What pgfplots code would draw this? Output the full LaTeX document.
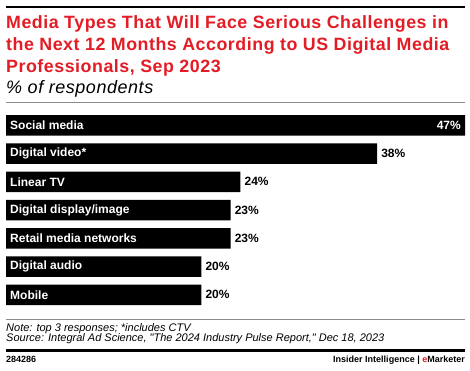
\documentclass[border=0pt]{standalone}
\usepackage{pgfplots}
\pgfplotsset{compat=1.18}
\usepackage{pgfplotstable}
\usepackage{fontspec}
\setmainfont{Liberation Sans}
\newfontfamily\titlefont[LetterSpace=3]{Liberation Sans}
\newfontfamily\notefont[Ligatures=TeXOff]{Liberation Sans}
\definecolor{emred}{RGB}{227,28,37}
\definecolor{rulegray}{RGB}{140,140,140}

\pgfplotstableread[col sep=comma]{
pos,val,lx,name
0,47,0,Social media
1,38,0,Digital video*
2,24,0,Linear TV
3,23,0,Digital display/image
4,23,0,Retail media networks
5,20,0,Digital audio
6,20,0,Mobile
}\mediadata

\begin{document}
\begin{tikzpicture}
\useasboundingbox[fill=white] (0,0) rectangle (470pt,-371pt);
\draw[line width=2pt] (6pt,-7pt) -- (465pt,-7pt);
\node[anchor=base west, inner sep=0, text=emred, font=\titlefont\fontsize{17.8}{21}\selectfont\bfseries] at (6pt,-28.3pt) {Media Types That Will Face Serious Challenges in};
\node[anchor=base west, inner sep=0, text=emred, font=\titlefont\fontsize{17.8}{21}\selectfont\bfseries] at (6pt,-50.6pt) {the Next 12 Months According to US Digital Media};
\node[anchor=base west, inner sep=0, text=emred, font=\titlefont\fontsize{17.8}{21}\selectfont\bfseries] at (6pt,-72.9pt) {Professionals, Sep 2023};
\node[anchor=base west, inner sep=0, font=\titlefont\fontsize{18}{21}\selectfont\itshape] at (6pt,-94pt) {\% of respondents};
\draw[rulegray, line width=0.7pt] (6pt,-102pt) -- (465pt,-102pt);

\begin{axis}[
  at={(6pt,-111.2pt)}, anchor=north west,
  scale only axis, width=459pt, height=197.75pt,
  xmin=0, xmax=47, ymin=-0.5, ymax=6.5,
  y dir=reverse, hide axis, clip=false,
  /pgf/number format/assume math mode=true,
]
\addplot[xbar, fill=black, draw=none, bar width=20.5pt] table[x=val, y=pos] {\mediadata};
\addplot[draw=none, mark=none, point meta=explicit symbolic, nodes near coords,
  every node near coord/.append style={anchor=west, text=white, inner sep=0pt, xshift=4pt,
    font=\fontsize{12}{14}\selectfont\bfseries}]
  table[x=lx, y=pos, meta=name] {\mediadata};
\addplot[draw=none, mark=none, point meta=x,
  nodes near coords={\pgfmathprintnumber{\pgfplotspointmeta}\%},
  every node near coord/.append style={anchor=west, text=black, inner sep=0pt, xshift=4pt,
    font=\fontsize{12}{14}\selectfont\bfseries}]
  coordinates {(38,1) (24,2) (23,3) (23,4) (20,5) (20,6)};
\addplot[draw=none, mark=none, point meta=x,
  nodes near coords={\pgfmathprintnumber{\pgfplotspointmeta}\%},
  every node near coord/.append style={anchor=east, text=white, inner sep=0pt, xshift=-4pt,
    font=\fontsize{12}{14}\selectfont\bfseries}]
  coordinates {(47,0)};
\end{axis}

\draw[rulegray, line width=0.7pt] (6pt,-319pt) -- (465pt,-319pt);
\node[anchor=base west, inner sep=0, font=\notefont\fontsize{11}{12}\selectfont\itshape] at (6pt,-331pt) {Note: top 3 responses; *includes CTV};
\node[anchor=base west, inner sep=0, font=\notefont\fontsize{11}{12}\selectfont\itshape] at (6pt,-341.5pt) {Source: Integral Ad Science, "The 2024 Industry Pulse Report," Dec 18, 2023};
\draw[line width=3pt] (6pt,-350.5pt) -- (465pt,-350.5pt);
\node[anchor=base west, inner sep=0, font=\fontsize{9}{10}\selectfont\bfseries] at (6pt,-362.5pt) {284286};
\node[anchor=base east, inner sep=0, font=\fontsize{9}{10}\selectfont\bfseries] at (465pt,-362.5pt) {Insider Intelligence | {\color{emred}e}Marketer};
\end{tikzpicture}
\end{document}
